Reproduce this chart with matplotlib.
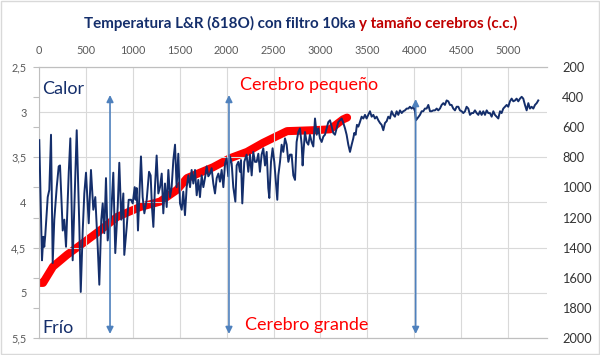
import matplotlib
matplotlib.use("Agg")
import matplotlib.pyplot as plt
from matplotlib.ticker import FixedLocator, FuncFormatter
from matplotlib.patches import Rectangle

plt.rcParams['font.family'] = ['Lato', 'DejaVu Sans']

# --- Data -------------------------------------------------------------
# L&R d18O stack (filtered), ka on x, permil on y
d18o_ka = [3, 32, 46, 56, 67, 93, 110, 128, 146, 163, 189, 210, 224, 253, 270, 288,
           317, 334, 359, 384, 402, 430, 445, 466, 483, 501, 530, 554, 579, 600, 626,
           643, 664, 679, 696, 714, 732, 768, 792, 813, 839, 856, 877, 899, 909, 935,
           956, 981, 999, 1020,
           1030, 1041, 1055, 1069, 1087, 1105, 1123, 1148, 1173, 1190, 1204, 1219, 1236,
           1254, 1272, 1290, 1308, 1325, 1343, 1361, 1379, 1396, 1414, 1432, 1450, 1467,
           1485, 1503, 1521, 1538, 1556, 1574, 1592, 1610, 1627, 1645, 1663, 1681, 1698,
           1716, 1734, 1752, 1769, 1787, 1805, 1823, 1840, 1858, 1876, 1894, 1912, 1929,
           1947, 1965, 1983, 2000, 2018, 2036, 2054, 2071, 2093,
           2107, 2125, 2142, 2153, 2167, 2188, 2213, 2231, 2249, 2267, 2284, 2302, 2320,
           2338, 2355, 2373, 2391, 2409, 2427, 2444, 2455, 2473, 2490, 2508, 2522, 2540,
           2551, 2569, 2586, 2604, 2622, 2640, 2658, 2675, 2693, 2711, 2729, 2746, 2764,
           2782, 2800, 2810, 2817, 2835, 2853, 2871, 2888, 2906, 2924, 2942, 2960, 2977,
           2995, 3013, 3031, 3048, 3066, 3084, 3102, 3119, 3137, 3155, 3173, 3190, 3208,
           3226, 3244, 3262, 3279, 3297, 3315, 3333, 3350, 3361, 3375, 3389, 3404, 3421,
           3439, 3457, 3475, 3492, 3510, 3528, 3546, 3564,
           3581, 3599, 3617, 3635, 3652, 3670, 3688, 3706, 3723, 3741, 3759, 3777, 3794,
           3812, 3830, 3848, 3866, 3883, 3901, 3919, 3937, 3954, 3972, 3990, 4008, 4018,
           4033, 4047, 4061, 4079, 4096, 4114, 4132, 4150, 4168, 4185, 4203, 4221, 4239,
           4256, 4274, 4292, 4310, 4327, 4345, 4363, 4381, 4398, 4416, 4434, 4452, 4470,
           4487, 4505, 4523, 4541, 4558, 4576, 4594, 4612, 4629, 4647, 4665, 4683, 4700,
           4718, 4736, 4754, 4772, 4789, 4807, 4825, 4843, 4860, 4878, 4896, 4914, 4931,
           4949, 4967, 4985, 5002, 5020, 5038, 5056, 5074, 5091, 5109, 5127, 5145, 5162,
           5180, 5198, 5216, 5233, 5251, 5269, 5287, 5305, 5322]
d18o_val = [3.31, 4.64, 4.38, 4.49, 4.36, 3.94, 3.86, 3.25, 4.67, 4.19, 3.83, 3.60, 3.59,
            4.31, 4.19, 4.49, 3.67, 3.29, 4.64, 3.78, 3.20, 4.27, 4.99, 4.31, 3.90, 3.67,
            4.23, 3.64, 4.08, 3.94, 4.49, 4.91, 4.19, 4.01, 4.34, 3.73, 4.42, 4.16, 3.67,
            4.56, 4.05, 3.56, 4.19, 3.90, 4.58, 4.27, 3.97, 3.97, 4.01, 3.83,
            3.97, 3.84, 4.31, 3.94, 3.49, 3.94, 4.12, 3.97, 3.66, 3.70, 4.05, 4.27, 3.83,
            3.48, 3.90, 3.83, 3.68, 4.12, 3.79, 4.05, 3.64, 3.94, 3.83, 3.53, 3.36, 3.83,
            3.46, 4.01, 4.08, 3.88, 4.14, 3.83, 3.70, 3.83, 3.64, 3.79, 3.64, 3.92, 3.75,
            3.94, 3.70, 3.83, 3.73, 3.60, 3.71, 3.68, 3.62, 3.79, 3.90, 3.73, 3.68, 3.77,
            3.64, 3.83, 3.57, 3.51, 3.71, 3.49, 3.57, 3.83, 3.99,
            3.59, 3.55, 3.66, 3.53, 4.01, 3.55, 3.47, 3.66, 3.47, 3.70, 3.44, 3.55, 3.55,
            3.46, 3.66, 3.47, 3.40, 3.59, 3.44, 3.84, 3.95, 3.55, 3.40, 3.55, 3.73, 3.97,
            3.70, 3.55, 3.36, 3.44, 3.29, 3.36, 3.55, 3.47, 3.47, 3.70, 3.75, 3.33, 3.22,
            3.18, 3.36, 3.59, 3.47, 3.22, 3.33, 3.36, 3.25, 3.33, 3.38, 3.07, 3.25, 3.18,
            3.29, 3.33, 3.27, 3.25, 3.18, 3.11, 3.09, 3.16, 3.23, 3.25, 3.18, 3.11, 3.09,
            3.07, 3.12, 3.18, 3.25, 3.36, 3.44, 3.36, 3.29, 3.23, 3.25, 3.14, 3.16, 3.11,
            3.05, 3.07, 3.03, 3.07, 3.03, 2.99, 3.05, 3.03,
            3.07, 3.05, 3.09, 3.12, 3.14, 3.20, 3.12, 3.10, 3.05, 3.07, 2.99, 3.03, 3.05,
            2.99, 3.03, 2.98, 3.01, 2.99, 2.98, 2.96, 2.96, 2.94, 2.96, 2.94, 2.99, 3.09,
            3.07, 3.05, 3.03, 2.99, 2.99, 2.96, 2.96, 2.92, 2.99, 2.99, 2.98, 2.98, 2.96,
            2.98, 2.96, 2.92, 2.90, 2.92, 2.87, 2.88, 2.92, 2.92, 2.96, 2.98, 2.94, 2.94,
            2.98, 2.99, 3.01, 2.99, 2.94, 2.96, 3.03, 3.01, 3.01, 2.98, 3.01, 3.03, 2.99,
            3.03, 2.99, 3.03, 2.98, 3.01, 3.01, 3.05, 2.99, 3.03, 3.05, 3.07, 2.99, 3.01,
            2.96, 2.94, 2.92, 2.94, 2.88, 2.85, 2.88, 2.87, 2.85, 2.88, 2.85, 2.83, 2.85,
            2.92, 2.98, 2.90, 2.96, 2.94, 2.96, 2.92, 2.90, 2.87]

# Brain size (c.c.), right axis
brain_ka = [0, 43, 149, 298, 469, 650, 832, 1077, 1290, 1471, 1578, 1716, 1855, 2036,
            2217, 2388, 2644, 2921, 3102, 3241, 3284]
brain_cc = [1634, 1634, 1526, 1448, 1370, 1286, 1196, 1130, 1094, 1016, 938, 902, 866,
            806, 764, 704, 626, 620, 614, 548, 536]

x_ticks = list(range(0, 5001, 500))
left_ticks = [2.5, 3, 3.5, 4, 4.5, 5, 5.5]
right_ticks = list(range(200, 2001, 200))

arrow_x = [757, 2025, 4015]
arrow_top = [2.81, 2.81, 2.855]
arrow_bottom = 5.455

title_a = "Temperatura L&R (δ18O) con filtro 10ka"
title_b = "y tamaño cerebros (c.c.)"

NAVY = "#142E6B"
DARKRED = "#C00000"
RED = "#FF0000"
ARROW = "#4F81BD"
GRID = "#D9D9D9"

# --- Figure -----------------------------------------------------------
W, H = 600, 355
fig = plt.figure(figsize=(6.0, 3.55), dpi=100)
fig.patches.append(Rectangle((0.001, 0.002), 0.997, 0.995, transform=fig.transFigure,
                             fill=False, ec="#D9D9D9", lw=1.0))

L, R, T, B = 39, 547, 67, 338
ax = fig.add_axes([L / W, 1 - B / H, (R - L) / W, (B - T) / H])
ax2 = ax.twinx()

ax.set_xlim(0, 5415)
ax.set_ylim(5.5, 2.5)
ax2.set_ylim(2000, 200)

ax.xaxis.tick_top()
ax.set_xticks(x_ticks)
ax.tick_params(axis='x', length=0, pad=8, labelsize=7.8, labelcolor="#595959")
ax.set_yticks(left_ticks)
ax.yaxis.set_major_formatter(FuncFormatter(lambda v, p: f"{v:g}".replace('.', ',')))
ax.yaxis.set_minor_locator(FixedLocator([2.5 + k / 3 for k in range(10)]))
ax.yaxis.remove_overlapping_locs = False
ax.tick_params(axis='y', which='major', length=0, pad=9, labelsize=7.8, labelcolor="#595959")
ax.tick_params(axis='y', which='minor', length=4, width=0.8, color="#BFBFBF")

ax2.set_yticks(right_ticks)
ax2.tick_params(axis='y', length=0, pad=11, labelsize=9.2, labelcolor="#333333")

ax.grid(True, color=GRID, lw=0.8)
ax.set_axisbelow(True)
for a in (ax, ax2):
    a.spines['right'].set_visible(False)
    for s in ('left', 'top', 'bottom'):
        a.spines[s].set_color("#BFBFBF")
        a.spines[s].set_linewidth(0.8)
ax2.spines['left'].set_visible(False)

# series: red brain size below navy d18O
ax2.plot(brain_ka, brain_cc, color=RED, lw=5.8, solid_capstyle='round',
         solid_joinstyle='round', zorder=2)
ax.set_zorder(ax2.get_zorder() + 1)
ax.patch.set_visible(False)
ax.plot(d18o_ka, d18o_val, color=NAVY, lw=1.4, zorder=3)

for xa, yt in zip(arrow_x, arrow_top):
    ax.annotate("", xy=(xa, yt), xytext=(xa, arrow_bottom),
                arrowprops=dict(arrowstyle='<|-|>', color=ARROW, lw=1.2,
                                mutation_scale=10, shrinkA=0, shrinkB=0))

ax.text(32, 2.74, "Calor", color=NAVY, fontsize=13, va='center', ha='left')
ax.text(40, 5.39, "Frío", color=NAVY, fontsize=13, va='center', ha='left')
ax.text(2143, 2.70, "Cerebro pequeño", color=RED, fontsize=13, va='center', ha='left')
ax.text(2196, 5.36, "Cerebro grande", color=RED, fontsize=13, va='center', ha='left')

# two-colour title centred at x=300 px
fig.canvas.draw()
rend = fig.canvas.get_renderer()
ty = 1 - 28 / H
t1 = fig.text(0, ty, title_a, color=NAVY, fontsize=10.9, fontweight='bold', va='baseline')
t2 = fig.text(0, ty, title_b, color=DARKRED, fontsize=10.9, fontweight='bold', va='baseline')
w1 = t1.get_window_extent(rend).width
w2 = t2.get_window_extent(rend).width
gap = 4
x0 = 300.5 - (w1 + gap + w2) / 2
t1.set_x(x0 / W)
t2.set_x((x0 + w1 + gap) / W)

fig.savefig("out.png", dpi=100)
